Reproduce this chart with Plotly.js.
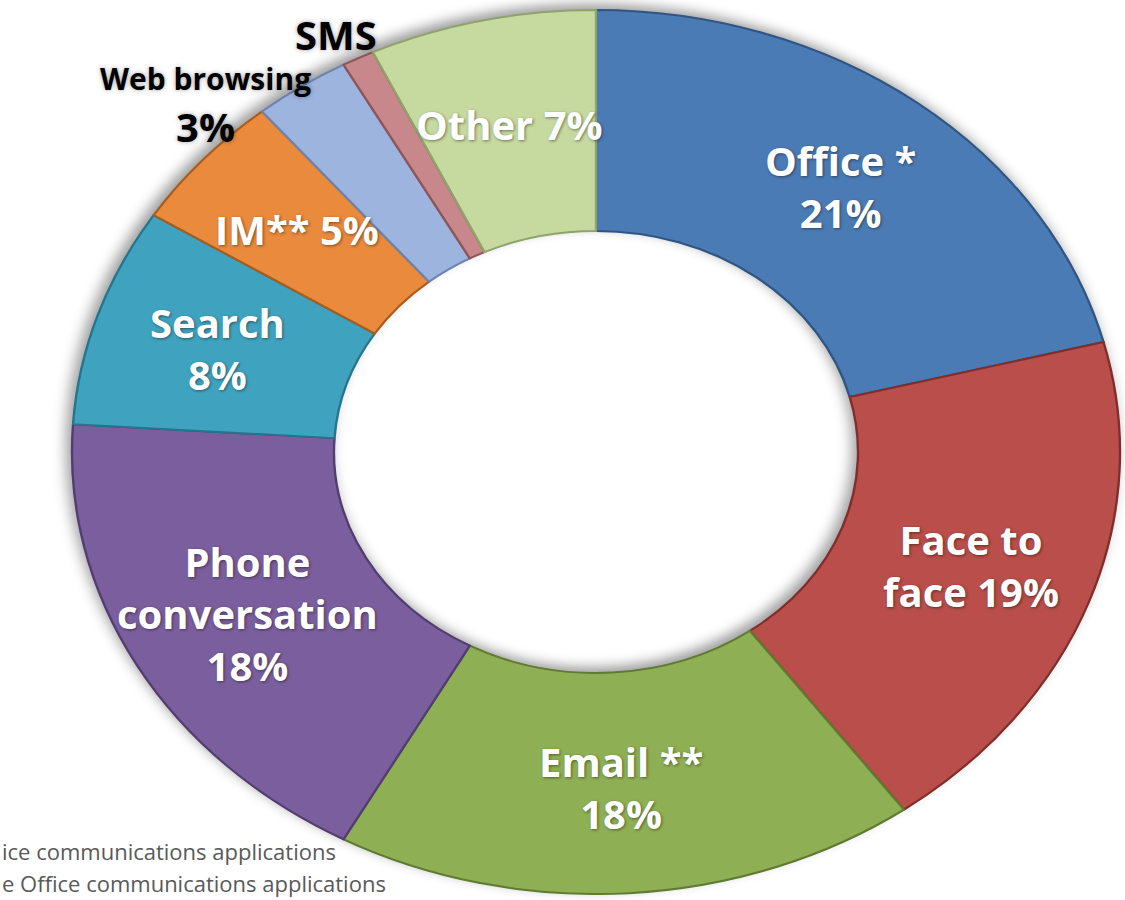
<!DOCTYPE html>
<html><head><meta charset="utf-8">
<script src="https://cdn.plot.ly/plotly-3.0.1.min.js"></script>
<style>html,body{margin:0;padding:0;background:#fff}#chart{width:1125px;height:900px}
.pielayer{filter:drop-shadow(-4px -5px 6px rgba(0,0,0,0.38));}</style>
</head><body><div id="chart"></div>
<script>
// ---- data ----
const categories = ['Office', 'Face to face', 'Email', 'Phone conversation', 'Search', 'IM', 'Web browsing', 'SMS', 'Other'];
const shares = [21, 19, 18, 18, 8, 5, 3, 1, 7];
const sliceLabels = ['Office *<br>21%', 'Face to<br>face 19%', 'Email **<br>18%', 'Phone<br>conversation<br>18%',
  'Search<br>8%', 'IM** 5%', '<span style="font-size:30px">Web browsing</span><br>3%', 'SMS', 'Other 7%'];
const labelPlacement = ['inside', 'inside', 'inside', 'inside', 'inside', 'inside', 'outside-left', 'outside-top', 'inside'];
const footnotes = ['ice communications applications', 'e Office communications applications'];

// ---- styles ----
const colors = ['#4B7BB5', '#B94E4A', '#8EAF53', '#7B5E9E', '#3FA3BF', '#E98A3D', '#9DB4DE', '#C7878B', '#C6D99F'];
const edgeColors = ['#2F5584', '#7E2F2C', '#5F7A31', '#523D70', '#25758C', '#A85C1E', '#6C84B0', '#8E5558', '#8FA36B'];

const W = 1125, H = 900;
const CX = 596, CY = 452, RY = 442, RX = 524;   // ellipse geometry (px)
const SX = RX / RY;

const trace = {
  type: 'pie',
  labels: categories,
  values: shares,
  sort: false,
  direction: 'clockwise',
  rotation: 0,
  hole: 0.5,
  textinfo: 'none',
  hoverinfo: 'label+percent',
  marker: { colors: colors, line: { color: edgeColors, width: 2 } },
  domain: { x: [(CX - RY) / W, (CX + RY) / W], y: [1 - (CY + RY) / H, 1 - (CY - RY) / H] },
  showlegend: false
};

// label annotations computed from the data (mid-angle of each slice)
const total = shares.reduce((a, b) => a + b, 0);
let cum = 0;
const annotations = [];
shares.forEach((v, i) => {
  const mid = (cum + v / 2) / total;
  cum += v;
  const th = 2 * Math.PI * mid;
  const place = labelPlacement[i];
  const k = place === 'inside' ? 0.76 : 1.0;
  let px = CX + RX * k * Math.sin(th);
  let py = CY - RY * k * Math.cos(th);
  const a = {
    xref: 'paper', yref: 'paper', showarrow: false, text: sliceLabels[i],
    font: { family: 'Open Sans', size: 40, weight: 'bold', color: place === 'inside' ? '#FFFFFF' : '#000000',
            shadow: place === 'inside' ? '1px 1px 3px rgba(0,0,0,0.45)' : '0px 0px 5px rgba(0,0,0,0.35)' },
    xanchor: 'center', yanchor: 'middle', align: 'center'
  };
  if (place === 'outside-left') { a.xanchor = 'right'; px += 12; py += 20; }
  if (place === 'outside-top') { a.yanchor = 'bottom'; px -= 22; py += 6; }
  a.x = px / W; a.y = 1 - py / H;
  annotations.push(a);
});
footnotes.forEach((t, i) => {
  annotations.push({
    xref: 'paper', yref: 'paper', showarrow: false, text: t, x: 0, xanchor: 'left',
    y: 1 - (851 + i * 32) / H, yanchor: 'middle',
    font: { family: 'Open Sans', size: 22, color: '#595959' }
  });
});

const layout = {
  width: W, height: H,
  margin: { l: 0, r: 0, t: 0, b: 0 },
  paper_bgcolor: '#FFFFFF',
  plot_bgcolor: '#FFFFFF',
  annotations: annotations
};

Plotly.newPlot('chart', [trace], layout, { displayModeBar: false, staticPlot: true }).then(gd => {
  gd.querySelectorAll('.pielayer').forEach(g => {
    g.setAttribute('transform', `translate(${CX},0) scale(${SX},1) translate(${-CX},0)`);
  });
});
</script>
</body></html>
